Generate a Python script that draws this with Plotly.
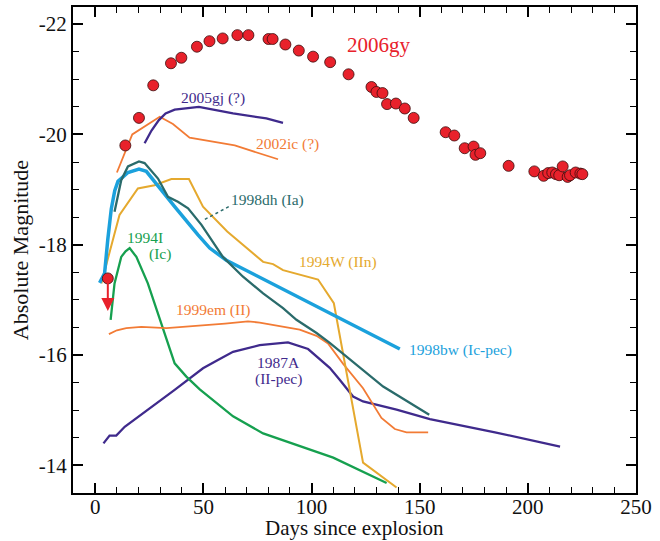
import plotly.graph_objects as go

# ---------------- data ----------------
gy_day = [13.9, 20.2, 26.8, 35.0, 39.8, 47.0, 52.8, 58.9, 65.7, 70.8, 80.1, 82.0, 87.9, 94.1,
          100.7, 108.6, 117.1, 127.7, 130.0, 132.8, 134.9, 139.0, 143.1, 147.2, 162.0, 166.0,
          170.8, 174.9, 175.8, 178.0, 191.1, 203.0, 207.3, 209.4, 211.3, 213.0, 214.5, 216.1,
          218.4, 219.5, 222.1, 224.3, 225.2]
gy_mag = [-19.80, -20.30, -20.89, -21.29, -21.39, -21.59, -21.69, -21.74, -21.80, -21.80, -21.73,
          -21.73, -21.63, -21.52, -21.41, -21.31, -21.09, -20.86, -20.77, -20.75, -20.55, -20.56,
          -20.47, -20.30, -20.04, -19.98, -19.75, -19.78, -19.63, -19.66, -19.43, -19.33, -19.25,
          -19.30, -19.31, -19.28, -19.26, -19.42, -19.23, -19.26, -19.31, -19.29, -19.28]

# upper limit of 2006gy (point and arrow tip)
gy_limit_day = [5.8]
gy_limit_mag = [-17.39]
gy_limit_tip = [-16.80]

sn2005gj_day = [22.8, 26.0, 29.4, 32.5, 36.7, 47.9, 63.7, 79.1, 86.8]
sn2005gj_mag = [-19.84, -20.07, -20.26, -20.38, -20.45, -20.50, -20.38, -20.29, -20.21]

sn2002ic_day = [10.0, 17.1, 29.8, 35.9, 43.6, 64.5, 84.5]
sn2002ic_mag = [-19.31, -20.00, -20.32, -20.19, -19.94, -19.80, -19.55]

sn1998dh_day = [8.9, 12.0, 15.1, 20.2, 22.8, 29.0, 33.6, 38.2, 42.9, 49.1, 59.0, 68.3, 77.6,
                86.8, 93.0, 102.3, 108.4, 133.1, 154.4]
sn1998dh_mag = [-18.60, -19.17, -19.42, -19.51, -19.48, -19.20, -18.87, -18.78, -18.66, -18.36,
                -17.78, -17.42, -17.12, -16.85, -16.64, -16.40, -16.22, -15.43, -14.92]

sn1998bw_day = [2.0, 4.3, 5.8, 7.4, 9.0, 10.5, 15.1, 20.2, 23.6, 30.5, 36.7, 47.5, 52.9, 60.6, 140.8]
sn1998bw_mag = [-17.31, -17.48, -18.10, -18.65, -18.98, -19.15, -19.31, -19.37, -19.33, -18.99,
                -18.69, -18.18, -17.94, -17.72, -16.11]

sn1994W_day = [2.8, 8.9, 11.2, 19.7, 27.4, 35.2, 43.3, 49.8, 61.0, 77.6, 82.2, 86.8, 103.0,
               110.3, 123.8, 139.3]
sn1994W_mag = [-17.30, -18.24, -18.54, -19.02, -19.08, -19.19, -19.19, -18.69, -18.24, -17.69,
               -17.65, -17.54, -17.37, -16.94, -14.05, -13.60]

sn1994I_day = [7.1, 8.9, 12.0, 14.0, 15.9, 19.0, 24.3, 30.5, 36.7, 42.1, 48.3, 63.7, 77.6, 110.0, 134.7]
sn1994I_mag = [-16.64, -17.30, -17.78, -17.88, -17.94, -17.78, -17.30, -16.58, -15.85, -15.61,
               -15.38, -14.89, -14.58, -14.14, -13.68]

sn1999em_day = [6.3, 10.0, 14.3, 21.3, 32.9, 48.3, 60.0, 70.6, 76.0, 94.5, 102.3, 107.6, 114.6,
                123.8, 132.3, 138.5, 143.9, 153.9]
sn1999em_mag = [-16.38, -16.45, -16.49, -16.51, -16.49, -16.53, -16.57, -16.61, -16.59, -16.46,
                -16.35, -16.21, -15.84, -15.40, -14.86, -14.66, -14.60, -14.60]

sn1987A_day = [3.8, 6.6, 9.7, 13.6, 36.7, 42.9, 49.8, 56.7, 63.7, 76.0, 89.1, 98.4, 108.4, 113.1,
               119.2, 123.8, 139.3, 154.7, 184.8, 214.9]
sn1987A_mag = [-14.40, -14.54, -14.54, -14.70, -15.37, -15.55, -15.76, -15.91, -16.06, -16.18,
               -16.23, -16.11, -15.77, -15.55, -15.25, -15.16, -15.01, -14.84, -14.60, -14.34]

# leader line for the 1998dh label (day, mag)
leader_day = [61.7, 49.7]
leader_mag = [-18.69, -18.44]

x_ticks = [0, 50, 100, 150, 200, 250]
y_ticks = [-22, -20, -18, -16, -14]
y_ticktext = ["-22", "-20", "-18", "-16", "-14"]

# ---------------- colours ----------------
RED = "#e8212b"
INDIGO = "#3f2a8c"
ORANGE = "#f27b35"
TEAL = "#2a6b6b"
BLUE = "#1ba1dc"
GOLD = "#e5a92e"
GREEN = "#16a04f"

FONT = "Liberation Serif"

fig = go.Figure()


def add_line(x, y, color, width):
    fig.add_trace(go.Scatter(x=x, y=y, mode="lines", line=dict(color=color, width=width),
                             showlegend=False, hoverinfo="skip"))


add_line(sn1987A_day, sn1987A_mag, INDIGO, 2.3)
add_line(sn1994I_day, sn1994I_mag, GREEN, 2.3)
add_line(sn1999em_day, sn1999em_mag, ORANGE, 1.8)
add_line(sn1994W_day, sn1994W_mag, GOLD, 2.0)
add_line(sn1998bw_day, sn1998bw_mag, BLUE, 3.5)
add_line(sn1998dh_day, sn1998dh_mag, TEAL, 2.3)
add_line(sn2002ic_day, sn2002ic_mag, ORANGE, 1.8)
add_line(sn2005gj_day, sn2005gj_mag, INDIGO, 2.3)

# dotted leader line
fig.add_trace(go.Scatter(x=leader_day, y=leader_mag, mode="lines",
                         line=dict(color=TEAL, width=1.5, dash="dot"),
                         showlegend=False, hoverinfo="skip"))

# 2006gy points
fig.add_trace(go.Scatter(x=gy_day + gy_limit_day, y=gy_mag + gy_limit_mag, mode="markers",
                         marker=dict(color=RED, size=11, line=dict(color="#3a0d0d", width=0.8)),
                         showlegend=False, hoverinfo="skip"))

# upper-limit arrow
fig.add_annotation(x=gy_limit_day[0], y=gy_limit_tip[0], ax=gy_limit_day[0], ay=gy_limit_mag[0],
                   xref="x", yref="y", axref="x", ayref="y", showarrow=True, text="",
                   arrowhead=2, arrowsize=1.3, arrowwidth=2, arrowcolor=RED)

# labels
labels = [
    ("2006gy", 131.3, -21.62, RED, 21),
    ("2005gj (?)", 54.4, -20.66, INDIGO, 15.5),
    ("2002ic (?)", 88.8, -19.83, ORANGE, 15.5),
    ("1998dh (Ia)", 79.7, -18.81, TEAL, 15.5),
    ("1994I", 23.0, -18.13, GREEN, 15.5),
    ("(Ic)", 29.8, -17.83, GREEN, 15.5),
    ("1994W (IIn)", 112.2, -17.69, GOLD, 15.5),
    ("1999em (II)", 54.2, -16.81, ORANGE, 15.5),
    ("1998bw (Ic-pec)", 168.9, -16.09, BLUE, 15.5),
    ("1987A", 84.8, -15.86, INDIGO, 15.5),
    ("(II-pec)", 84.8, -15.56, INDIGO, 15.5),
]
for text, lx, ly, col, fs in labels:
    fig.add_annotation(x=lx, y=ly, xref="x", yref="y", text=text, showarrow=False,
                       font=dict(family=FONT, size=fs, color=col), xanchor="center", yanchor="middle")

# x-axis title placed as paper annotation
fig.add_annotation(x=0.5, y=-0.073, xref="paper", yref="paper", text="Days since explosion",
                   showarrow=False, font=dict(family=FONT, size=21, color="#111111"),
                   xanchor="center", yanchor="middle", borderpad=0)

fig.update_layout(
    width=660, height=541,
    margin=dict(l=73, r=24, t=7, b=48),
    paper_bgcolor="white", plot_bgcolor="white",
    showlegend=False,
    font=dict(family=FONT, size=21, color="#111111"),
)

fig.update_xaxes(
    range=[-10.3, 250], tickmode="array", tickvals=x_ticks,
    ticks="inside", ticklen=10, tickwidth=1.5, tickcolor="black",
    showline=True, linewidth=2, linecolor="black", mirror="ticks",
    showgrid=False, zeroline=False, ticklabelstandoff=-6,
    minor=dict(tick0=0, dtick=10, ticks="inside", ticklen=6, tickwidth=1.2, tickcolor="black", showgrid=False),
    automargin=False,
)
fig.update_yaxes(
    range=[-13.5, -22.31], tickmode="array", tickvals=y_ticks, ticktext=y_ticktext,
    ticks="inside", ticklen=10, tickwidth=1.5, tickcolor="black",
    showline=True, linewidth=2, linecolor="black", mirror="ticks",
    showgrid=False, zeroline=False,
    minor=dict(tick0=0, dtick=0.5, ticks="inside", ticklen=6, tickwidth=1.2, tickcolor="black", showgrid=False),
    title=dict(text="Absolute Magnitude", standoff=4, font=dict(family=FONT, size=22)),
    automargin=False,
)

fig.write_html("out.html")
